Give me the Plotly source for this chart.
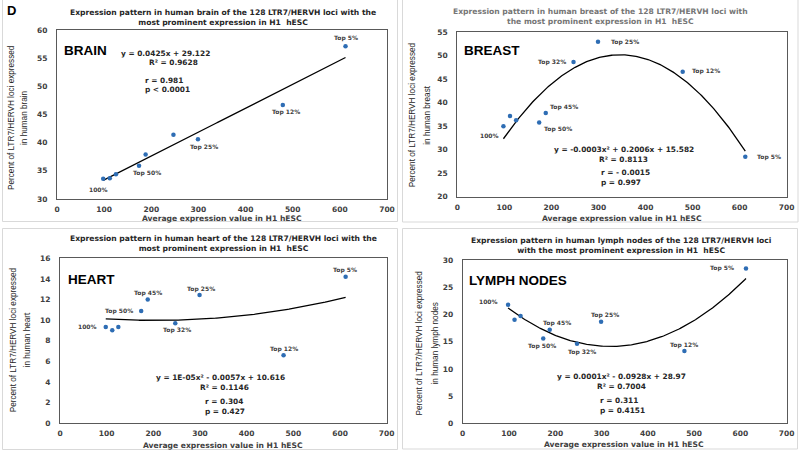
import numpy as np
import plotly.graph_objects as go

# ---------------- data ----------------
x_expr = [98, 112, 125, 174, 188, 247, 299, 479, 612]
point_labels = ["100%", "", "", "Top 50%", "Top 45%", "Top 32%", "Top 25%", "Top 12%", "Top 5%"]
brain = [33.6, 33.7, 34.4, 35.9, 37.9, 41.4, 40.6, 46.7, 57.1]
breast = [35.0, 37.2, 36.3, 35.8, 37.8, 48.7, 53.0, 46.6, 28.5]
heart = [9.34, 9.02, 9.34, 10.9, 12.0, 9.7, 12.45, 6.6, 14.2]
lymph = [21.84, 19.08, 19.75, 15.6, 17.2, 14.66, 18.7, 13.3, 28.5]

titles = [
    "Expression pattern in human brain of the 128 LTR7/HERVH loci with the<br>most prominent expression in H1  hESC",
    "Expression pattern in human breast of the 128 LTR7/HERVH loci with<br>the most prominent expression in H1  hESC",
    "Expression pattern in human heart of the 128 LTR7/HERVH loci with the<br>most prominent expression in H1  hESC",
    "Expression pattern in human lymph nodes of the 128 LTR7/HERVH loci<br>with the most prominent expression in H1  hESC",
]
tissue_names = ["BRAIN", "BREAST", "HEART", "LYMPH NODES"]
ytitle_line1 = "Percent of LTR7/HERVH loci expressed"
ytitle_line2 = ["in human brain", "in human breast", "in human heart", "in human lymph nodes"]
xtitle = "Average expression value in H1 hESC"
stats = [
    ["y = 0.0425x + 29.122", "R² = 0.9628", "r = 0.981", "p < 0.0001"],
    ["y = -0.0003x² + 0.2006x + 15.582", "R² = 0.8113", "r = - 0.0015", "p = 0.997"],
    ["y = 1E-05x² - 0.0057x + 10.616", "R² = 0.1146", "r = 0.304", "p = 0.427"],
    ["y = 0.0001x² - 0.0928x + 28.97", "R² = 0.7004", "r = 0.311", "p = 0.4151"],
]
series = [brain, breast, heart, lymph]
fit_degree = [1, 2, 2, 2]
yranges = [[30, 60], [20, 55], [0, 16], [0, 30]]
ydticks = [5, 5, 2, 5]

# ---------------- layout / style ----------------
W, H = 800, 452
def px(x, y):
    return x / W, 1 - y / H

# plot-area boxes in pixels (left, top, right, bottom)
boxes = [(57, 30, 387, 199), (457.3, 32.3, 786.7, 196.7),
         (60, 258.3, 386.7, 423.3), (462.7, 260.3, 786.7, 423.3)]
frames = [(2.5, -2, 397.5, 221.5), (402.5, -2, 798, 222),
          (2.5, 228.5, 397.5, 449.5), (402.5, 228.5, 797.5, 449)]
title_pos = [(223, 17, "#262626"), (600, 16, "#767676"), (223, 243.7, "#262626"), (620.5, 246, "#262626")]
tissue_pos = [(63, 50), (462.7, 50), (67, 279), (468, 280)]
# x of line 1, x of line 2, y centre
ytitle_pos = [(11, 24, 118), (412.3, 426.7, 115), (13.3, 27.3, 340), (419, 435, 343.5)]
xtitle_pos = [(222, 218), (621.7, 218.3), (223, 445.5), (623.7, 444)]
# (x, y, anchor) for each of the 4 stat lines
stat_pos = [
    [(165, 53, "center"), (173, 62.7, "center"), (143, 80, "left"), (143, 90, "left")],
    [(624, 149.3, "center"), (623.5, 159.3, "center"), (599, 172.7, "left"), (599, 182.7, "left")],
    [(220.5, 377.7, "center"), (224, 387.7, "center"), (203, 401, "left"), (203, 411, "left")],
    [(621.8, 376.7, "center"), (621.8, 386, "center"), (597.7, 400, "left"), (597.7, 410.3, "left")],
]
label_offsets = [
    {"100%": ("center", -5, -11), "Top 50%": ("center", 8, -7), "Top 25%": ("center", 6, -7.5),
     "Top 12%": ("center", 3, -7.5), "Top 5%": ("center", 0, 8)},
    {"100%": ("right", -2, -9), "Top 50%": ("left", 2.7, -7), "Top 45%": ("left", 2.4, 6.3),
     "Top 32%": ("right", -6, 0), "Top 25%": ("left", 10.6, 0), "Top 12%": ("left", 7, 1),
     "Top 5%": ("left", 9.7, 0)},
    {"100%": ("right", -7, 0), "Top 50%": ("right", -6.7, 0), "Top 45%": ("center", 0, 6.7),
     "Top 32%": ("center", 2, -7), "Top 25%": ("center", 1, 6), "Top 12%": ("center", 0, 6.7),
     "Top 5%": ("center", -1, 7.3)},
    {"100%": ("right", -7.7, 3.4), "Top 50%": ("center", -1.5, -7.3), "Top 45%": ("center", 7.5, 6.7),
     "Top 32%": ("center", 5, -8.3), "Top 25%": ("center", 3.5, 6.7), "Top 12%": ("center", 0, 6.3),
     "Top 5%": ("right", -10, 0)},
]

BOLD = "DejaVu Sans"
ARIAL = "Liberation Sans"
MARKER = "#2E6DB4"
AXLINE = "#595959"

fig = go.Figure()
layout = dict(width=W, height=H, margin=dict(l=0, r=0, t=0, b=0, autoexpand=False),
              paper_bgcolor="white", plot_bgcolor="white", showlegend=False)
annotations = []
shapes = []

for i in range(4):
    xa = "x" if i == 0 else f"x{i+1}"
    ya = "y" if i == 0 else f"y{i+1}"
    l, t, r, b = boxes[i]
    x0, y1 = px(l, t)
    x1, y0 = px(r, b)
    axis_common = dict(showgrid=False, zeroline=False, showline=True, mirror=True,
                       linecolor=AXLINE, linewidth=1, ticks="", ticklen=0, automargin=False,
                       tickfont=dict(family=BOLD, size=7.5, color="#404040", weight="bold"))
    layout["xaxis" if i == 0 else f"xaxis{i+1}"] = dict(
        domain=[x0, x1], anchor=ya, range=[0, 700], dtick=100, tick0=0,
        ticklabelstandoff=3, **axis_common)
    layout["yaxis" if i == 0 else f"yaxis{i+1}"] = dict(
        domain=[y0, y1], anchor=xa, range=yranges[i], dtick=ydticks[i], tick0=0,
        ticklabelstandoff=7, **axis_common)

    yv = series[i]
    coef = np.polyfit(x_expr, yv, fit_degree[i])
    xs = np.linspace(min(x_expr), max(x_expr), 200)
    fig.add_trace(go.Scatter(x=xs, y=np.polyval(coef, xs), mode="lines",
                             line=dict(color="black", width=1.3), xaxis=xa, yaxis=ya,
                             hoverinfo="skip"))
    fig.add_trace(go.Scatter(x=x_expr, y=yv, mode="markers",
                             marker=dict(color=MARKER, size=4.5), xaxis=xa, yaxis=ya))

    # point labels
    for xv, yval, lab in zip(x_expr, yv, point_labels):
        if lab and lab in label_offsets[i]:
            anc, xs_, ys_ = label_offsets[i][lab]
            annotations.append(dict(x=xv, y=yval, xref=xa, yref=ya, text=lab, showarrow=False,
                                    xanchor=anc, yanchor="middle", xshift=xs_, yshift=ys_,
                                    font=dict(family=BOLD, size=6, color="#404040", weight="bold")))

    # title
    tx, ty, tc = title_pos[i]
    ax_, ay_ = px(tx, ty)
    annotations.append(dict(x=ax_, y=ay_, xref="paper", yref="paper", text=titles[i],
                            showarrow=False, xanchor="center", yanchor="middle", align="center",
                            font=dict(family=BOLD, size=7.6, color=tc, weight="bold")))
    # tissue label
    nx, ny = px(*tissue_pos[i])
    annotations.append(dict(x=nx, y=ny, xref="paper", yref="paper", text=tissue_names[i],
                            showarrow=False, xanchor="left", yanchor="middle", borderpad=0,
                            font=dict(family=ARIAL, size=13.5, color="black", weight="bold")))
    # y title (two lines)
    l1x, l2x, yc = ytitle_pos[i]
    for lx, txt in ((l1x, ytitle_line1), (l2x, ytitle_line2[i])):
        qx, qy = px(lx, yc)
        annotations.append(dict(x=qx, y=qy, xref="paper", yref="paper", text=txt,
                                showarrow=False, xanchor="center", yanchor="middle", textangle=-90,
                                font=dict(family=ARIAL, size=8.2, color="#262626")))
    # x title
    xx, xy = px(*xtitle_pos[i])
    annotations.append(dict(x=xx, y=xy, xref="paper", yref="paper", text=xtitle,
                            showarrow=False, xanchor="center", yanchor="middle",
                            font=dict(family=BOLD, size=7.6, color="#404040", weight="bold")))
    # stats
    for txt, (sx, sy, anc) in zip(stats[i], stat_pos[i]):
        qx, qy = px(sx, sy)
        annotations.append(dict(x=qx, y=qy, xref="paper", yref="paper", text=txt,
                                showarrow=False, xanchor=anc, yanchor="middle",
                                font=dict(family=BOLD, size=7.4, color="#262626", weight="bold")))
    # panel frame
    fl, ft, fr, fb = frames[i]
    fx0, fy1 = px(fl, ft)
    fx1, fy0 = px(fr, fb)
    shapes.append(dict(type="rect", xref="paper", yref="paper", x0=fx0, x1=fx1, y0=fy0, y1=fy1,
                       line=dict(color="#d9d9d9", width=1), fillcolor="rgba(0,0,0,0)", layer="below"))

dx, dy = px(5, 11)
annotations.append(dict(x=dx, y=dy, xref="paper", yref="paper", text="D", showarrow=False,
                        xanchor="left", yanchor="middle",
                        font=dict(family=ARIAL, size=13, color="black", weight="bold")))

layout["annotations"] = annotations
layout["shapes"] = shapes
fig.update_layout(**layout)
fig.write_html("out.html", config={"displayModeBar": False},
               post_script="document.body.style.margin='0';document.body.style.overflow='hidden';")
